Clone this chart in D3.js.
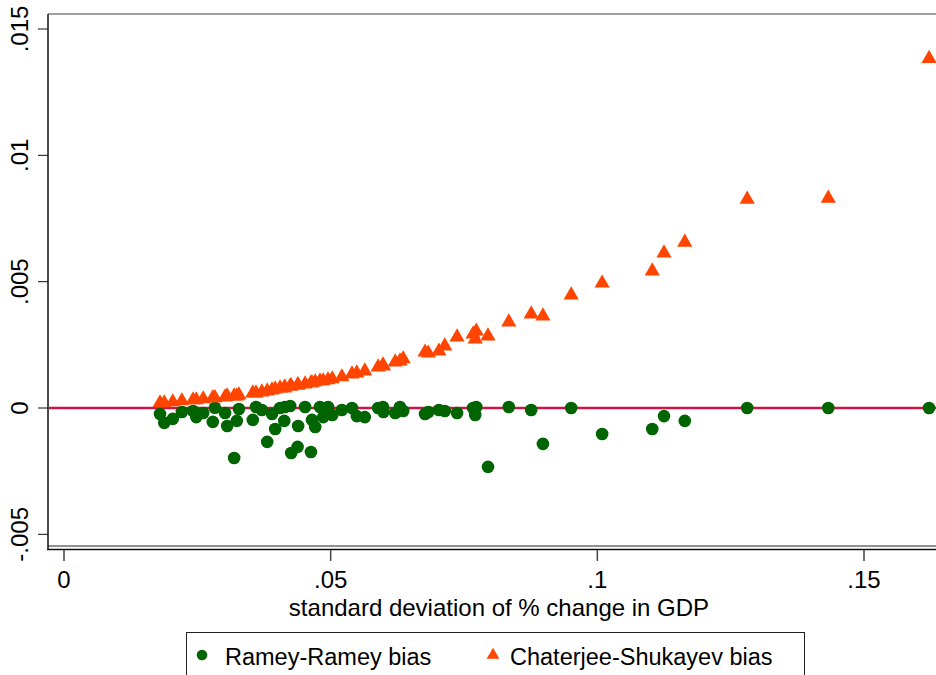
<!DOCTYPE html>
<html>
<head>
<meta charset="utf-8">
<script src="https://cdn.jsdelivr.net/npm/d3@7"></script>
<style>
  body { margin: 0; background: #fff; }
  svg { display: block; font-family: 'Liberation Sans', Arial, sans-serif; }
</style>
</head>
<body>
<div id="chart"></div>
<script>
// Ramey-Ramey bias (circles)
const rrX = [0.0180, 0.0188, 0.0204, 0.0221, 0.0242, 0.0248, 0.0261, 0.0279, 0.0283, 0.0302,
  0.0306, 0.0319, 0.0324, 0.0328, 0.0354, 0.0360, 0.0371, 0.0381, 0.0390, 0.0396,
  0.0405, 0.0413, 0.0414, 0.0424, 0.0426, 0.0439, 0.0438, 0.0452, 0.0463, 0.0465,
  0.0471, 0.0480, 0.0486, 0.0495, 0.0503, 0.0521, 0.0540, 0.0549, 0.0564, 0.0589,
  0.0598, 0.0599, 0.0621, 0.0630, 0.0636, 0.0677, 0.0683, 0.0703, 0.0714, 0.0737,
  0.0767, 0.0771, 0.0773, 0.0795, 0.0834, 0.0876, 0.0898, 0.0951, 0.1009, 0.1103,
  0.1125, 0.1164, 0.1281, 0.1433, 0.1622]
const rrY = [-0.00024, -0.00059, -0.00043, -0.00016, -0.00012, -0.00036, -0.00020, -0.00055, 0.00001, -0.00020,
  -0.00071, -0.00198, -0.00051, -0.00004, -0.00047, 0.00004, -0.00008, -0.00134, -0.00024, -0.00083,
  0.00000, -0.00051, 0.00004, 0.00008, -0.00178, -0.00071, -0.00154, 0.00004, -0.00174, -0.00047,
  -0.00075, 0.00004, -0.00036, 0.00004, -0.00028, -0.00008, 0.00000, -0.00032, -0.00036, 0.00000,
  0.00004, -0.00016, -0.00020, 0.00004, -0.00012, -0.00024, -0.00016, -0.00008, -0.00012, -0.00020,
  0.00000, -0.00028, 0.00004, -0.00233, 0.00004, -0.00008, -0.00142, 0.00000, -0.00103, -0.00083,
  -0.00032, -0.00051, 0.00000, 0.00000, 0.00000]

// Chaterjee-Shukayev bias (triangles)
const csX = rrX
const csY = [0.00020, 0.00020, 0.00024, 0.00028, 0.00032, 0.00032, 0.00036, 0.00040, 0.00040, 0.00043,
  0.00047, 0.00047, 0.00047, 0.00051, 0.00059, 0.00059, 0.00063, 0.00067, 0.00071, 0.00075,
  0.00079, 0.00079, 0.00083, 0.00087, 0.00087, 0.00091, 0.00091, 0.00095, 0.00099, 0.00099,
  0.00103, 0.00107, 0.00107, 0.00111, 0.00115, 0.00123, 0.00134, 0.00138, 0.00146, 0.00162,
  0.00170, 0.00166, 0.00182, 0.00186, 0.00194, 0.00221, 0.00217, 0.00225, 0.00245, 0.00281,
  0.00292, 0.00273, 0.00304, 0.00285, 0.00340, 0.00372, 0.00364, 0.00447, 0.00494, 0.00542,
  0.00613, 0.00656, 0.00826, 0.00830, 0.01383]

const xTicks = [0, 0.05, 0.1, 0.15]
const xTickLabels = ['0', '.05', '.1', '.15']
const yTicks = [-0.005, 0, 0.005, 0.01, 0.015]
const yTickLabels = ['-.005', '0', '.005', '.01', '.015']
const seriesNames = ['Ramey-Ramey bias', 'Chaterjee-Shukayev bias']

const width = 936
const height = 675
const green = '#006400'
const orange = '#ff4500'

const svg = d3.select('#chart')
  .append('svg')
  .attr('width', width)
  .attr('height', height)

// plot region: left 48, top 14, bottom 546 (runs off the right edge)
const x = d3.scaleLinear().domain([0, 0.15]).range([64, 864])
const y = d3.scaleLinear().domain([0, 0.015]).range([408, 29])

// outline of the plot region
svg.append('line')
  .attr('x1', 48).attr('x2', width).attr('y1', 14).attr('y2', 14)
  .attr('stroke', '#444').attr('stroke-width', 1)
svg.append('line')
  .attr('x1', 48).attr('x2', width).attr('y1', 546).attr('y2', 546)
  .attr('stroke', '#222').attr('stroke-width', 1)
svg.append('line')
  .attr('x1', 48).attr('x2', 48).attr('y1', 14).attr('y2', 550)
  .attr('stroke', '#111').attr('stroke-width', 1.5)

// y axis
const yAxis = svg.append('g')
yAxis.selectAll('line')
  .data(yTicks)
  .enter()
  .append('line')
  .attr('x1', 38).attr('x2', 48)
  .attr('y1', d => y(d)).attr('y2', d => y(d))
  .attr('stroke', '#111').attr('stroke-width', 1)
yAxis.selectAll('text')
  .data(yTicks)
  .enter()
  .append('text')
  .attr('transform', d => `translate(28,${y(d)}) rotate(-90)`)
  .attr('text-anchor', 'middle')
  .style('font-size', '24px')
  .text((d, i) => yTickLabels[i])

// x axis
svg.append('line')
  .attr('x1', 47).attr('x2', width).attr('y1', 549.5).attr('y2', 549.5)
  .attr('stroke', '#111').attr('stroke-width', 1.5)
const xAxis = svg.append('g')
xAxis.selectAll('line')
  .data(xTicks)
  .enter()
  .append('line')
  .attr('x1', d => x(d)).attr('x2', d => x(d))
  .attr('y1', 550).attr('y2', 561)
  .attr('stroke', '#444').attr('stroke-width', 1.5)
xAxis.selectAll('text')
  .data(xTicks)
  .enter()
  .append('text')
  .attr('x', d => x(d))
  .attr('y', 588)
  .attr('text-anchor', 'middle')
  .style('font-size', '24px')
  .text((d, i) => xTickLabels[i])

svg.append('text')
  .attr('x', 499)
  .attr('y', 616)
  .attr('text-anchor', 'middle')
  .style('font-size', '24px')
  .text('standard deviation of % change in GDP')

// zero reference line
svg.append('line')
  .attr('x1', 49).attr('x2', width)
  .attr('y1', y(0)).attr('y2', y(0))
  .attr('stroke', '#cc1447').attr('stroke-width', 2.5)

// markers
const triangle = d3.symbol().type(d3.symbolTriangle).size(100)

svg.append('g')
  .selectAll('circle')
  .data(rrX)
  .enter()
  .append('circle')
  .attr('cx', d => x(d))
  .attr('cy', (d, i) => y(rrY[i]))
  .attr('r', 6.3)
  .style('fill', green)

svg.append('g')
  .selectAll('path')
  .data(csX)
  .enter()
  .append('path')
  .attr('d', triangle)
  .attr('transform', (d, i) => `translate(${x(d)},${y(csY[i])})`)
  .style('fill', orange)

// legend
const legend = svg.append('g')
legend.append('rect')
  .attr('x', 186.5).attr('y', 632.5)
  .attr('width', 618).attr('height', 60)
  .attr('fill', 'none')
  .attr('stroke', '#222').attr('stroke-width', 1)
legend.append('circle')
  .attr('cx', 202).attr('cy', 655).attr('r', 5.3)
  .style('fill', green)
legend.append('path')
  .attr('d', d3.symbol().type(d3.symbolTriangle).size(70))
  .attr('transform', 'translate(493,655)')
  .style('fill', orange)
legend.selectAll('text')
  .data(seriesNames)
  .enter()
  .append('text')
  .attr('x', (d, i) => i === 0 ? 225 : 510)
  .attr('y', 665)
  .style('font-size', '23.5px')
  .text(d => d)
</script>
</body>
</html>
